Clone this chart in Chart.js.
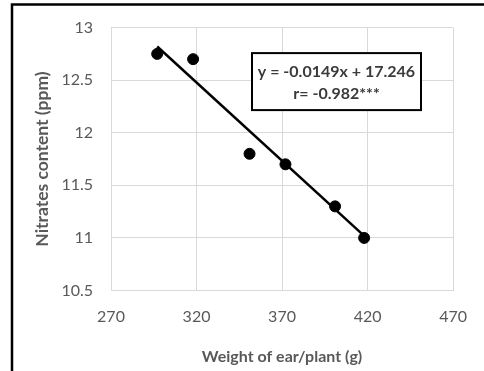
<!DOCTYPE html>
<html>
<head>
<meta charset="utf-8">
<script src="https://cdn.jsdelivr.net/npm/chart.js@4"></script>
<style>
html,body{margin:0;padding:0;background:#fff;}
#wrap{width:484px;height:371px;position:relative;}
</style>
</head>
<body>
<div id="wrap"><canvas id="c" width="484" height="371"></canvas></div>
<script>
const weights = [297, 318, 351, 372, 401, 418];
const nitrates = [12.75, 12.7, 11.8, 11.7, 11.3, 11.0];
const trendX = [297, 418];
const trendY = [12.82, 11.02];
const xTicks = [270, 320, 370, 420, 470];
const yTicks = [10.5, 11, 11.5, 12, 12.5, 13];
const xTitle = 'Weight of ear/plant (g)';
const yTitle = 'Nitrates content (ppm)';
const eqLines = ['y = -0.0149x + 17.246', 'r= -0.982***'];

const FONT = 'Lato, "Open Sans", sans-serif';
const GRAY = '#595959';

const framePlugin = {
  id: 'frame',
  afterDraw(chart) {
    const ctx = chart.ctx;
    ctx.save();
    ctx.strokeStyle = '#000';
    ctx.lineWidth = 2.5;
    ctx.beginPath();
    ctx.moveTo(12, 371);
    ctx.lineTo(12, 4.5);
    ctx.lineTo(484, 4.5);
    ctx.stroke();
    ctx.restore();
  }
};

const eqPlugin = {
  id: 'eqbox',
  afterDatasetsDraw(chart) {
    const ctx = chart.ctx;
    const a = chart.chartArea;
    const x0 = a.left + 141, y0 = a.top + 25.5, w = 169, h = 57;
    ctx.save();
    ctx.fillStyle = '#fff';
    ctx.fillRect(x0, y0, w, h);
    ctx.strokeStyle = '#000';
    ctx.lineWidth = 2;
    ctx.strokeRect(x0, y0, w, h);
    ctx.fillStyle = '#3a3a3a';
    ctx.textAlign = 'center';
    ctx.textBaseline = 'middle';
    ctx.font = 'bold 16px ' + FONT;
    ctx.fillText(eqLines[0], x0 + w / 2, y0 + 19);
    ctx.font = 'bold 16px ' + FONT;
    ctx.fillText(eqLines[1], x0 + w / 2, y0 + 40.5);
    ctx.restore();
  }
};

new Chart(document.getElementById('c'), {
  type: 'scatter',
  data: {
    datasets: [
      {
        data: weights.map((x, i) => ({x: x, y: nitrates[i]})),
        backgroundColor: '#000',
        borderColor: '#000',
        pointRadius: 5.5,
        pointHoverRadius: 5.5,
        showLine: false
      },
      {
        data: trendX.map((x, i) => ({x: x, y: trendY[i]})),
        borderColor: '#000',
        borderWidth: 2.5,
        pointRadius: 0,
        showLine: true,
        fill: false
      }
    ]
  },
  options: {
    responsive: false,
    animation: false,
    events: [],
    layout: {padding: {left: 0, right: 22, top: 19, bottom: 0}},
    plugins: {legend: {display: false}, tooltip: {enabled: false}},
    scales: {
      x: {
        type: 'linear',
        min: 270, max: 470,
        afterBuildTicks: s => { s.ticks = xTicks.map(v => ({value: v})); },
        afterFit: s => { s.height = 80.5; },
        grid: {color: '#d9d9d9', lineWidth: 1, drawTicks: false},
        border: {color: '#d9d9d9', width: 1},
        ticks: {color: GRAY, font: {family: FONT, size: 16}, padding: 17, callback: v => String(v), maxRotation: 0},
        title: {display: true, text: xTitle, color: GRAY, font: {family: FONT, size: 16, weight: 'bold'}, padding: {top: 0, bottom: 4.5}}
      },
      y: {
        type: 'linear',
        min: 10.5, max: 13,
        afterBuildTicks: s => { s.ticks = yTicks.map(v => ({value: v})); },
        afterFit: s => { s.width = 111; },
        grid: {color: '#d9d9d9', lineWidth: 1, drawTicks: false},
        border: {color: '#d9d9d9', width: 1},
        ticks: {color: GRAY, font: {family: FONT, size: 16}, padding: 18, callback: v => String(v)},
        title: {display: true, text: yTitle, color: GRAY, font: {family: FONT, size: 17.5, weight: 'bold'}, padding: {top: 31.5, bottom: 0}}
      }
    }
  },
  plugins: [framePlugin, eqPlugin]
});
</script>
</body>
</html>
